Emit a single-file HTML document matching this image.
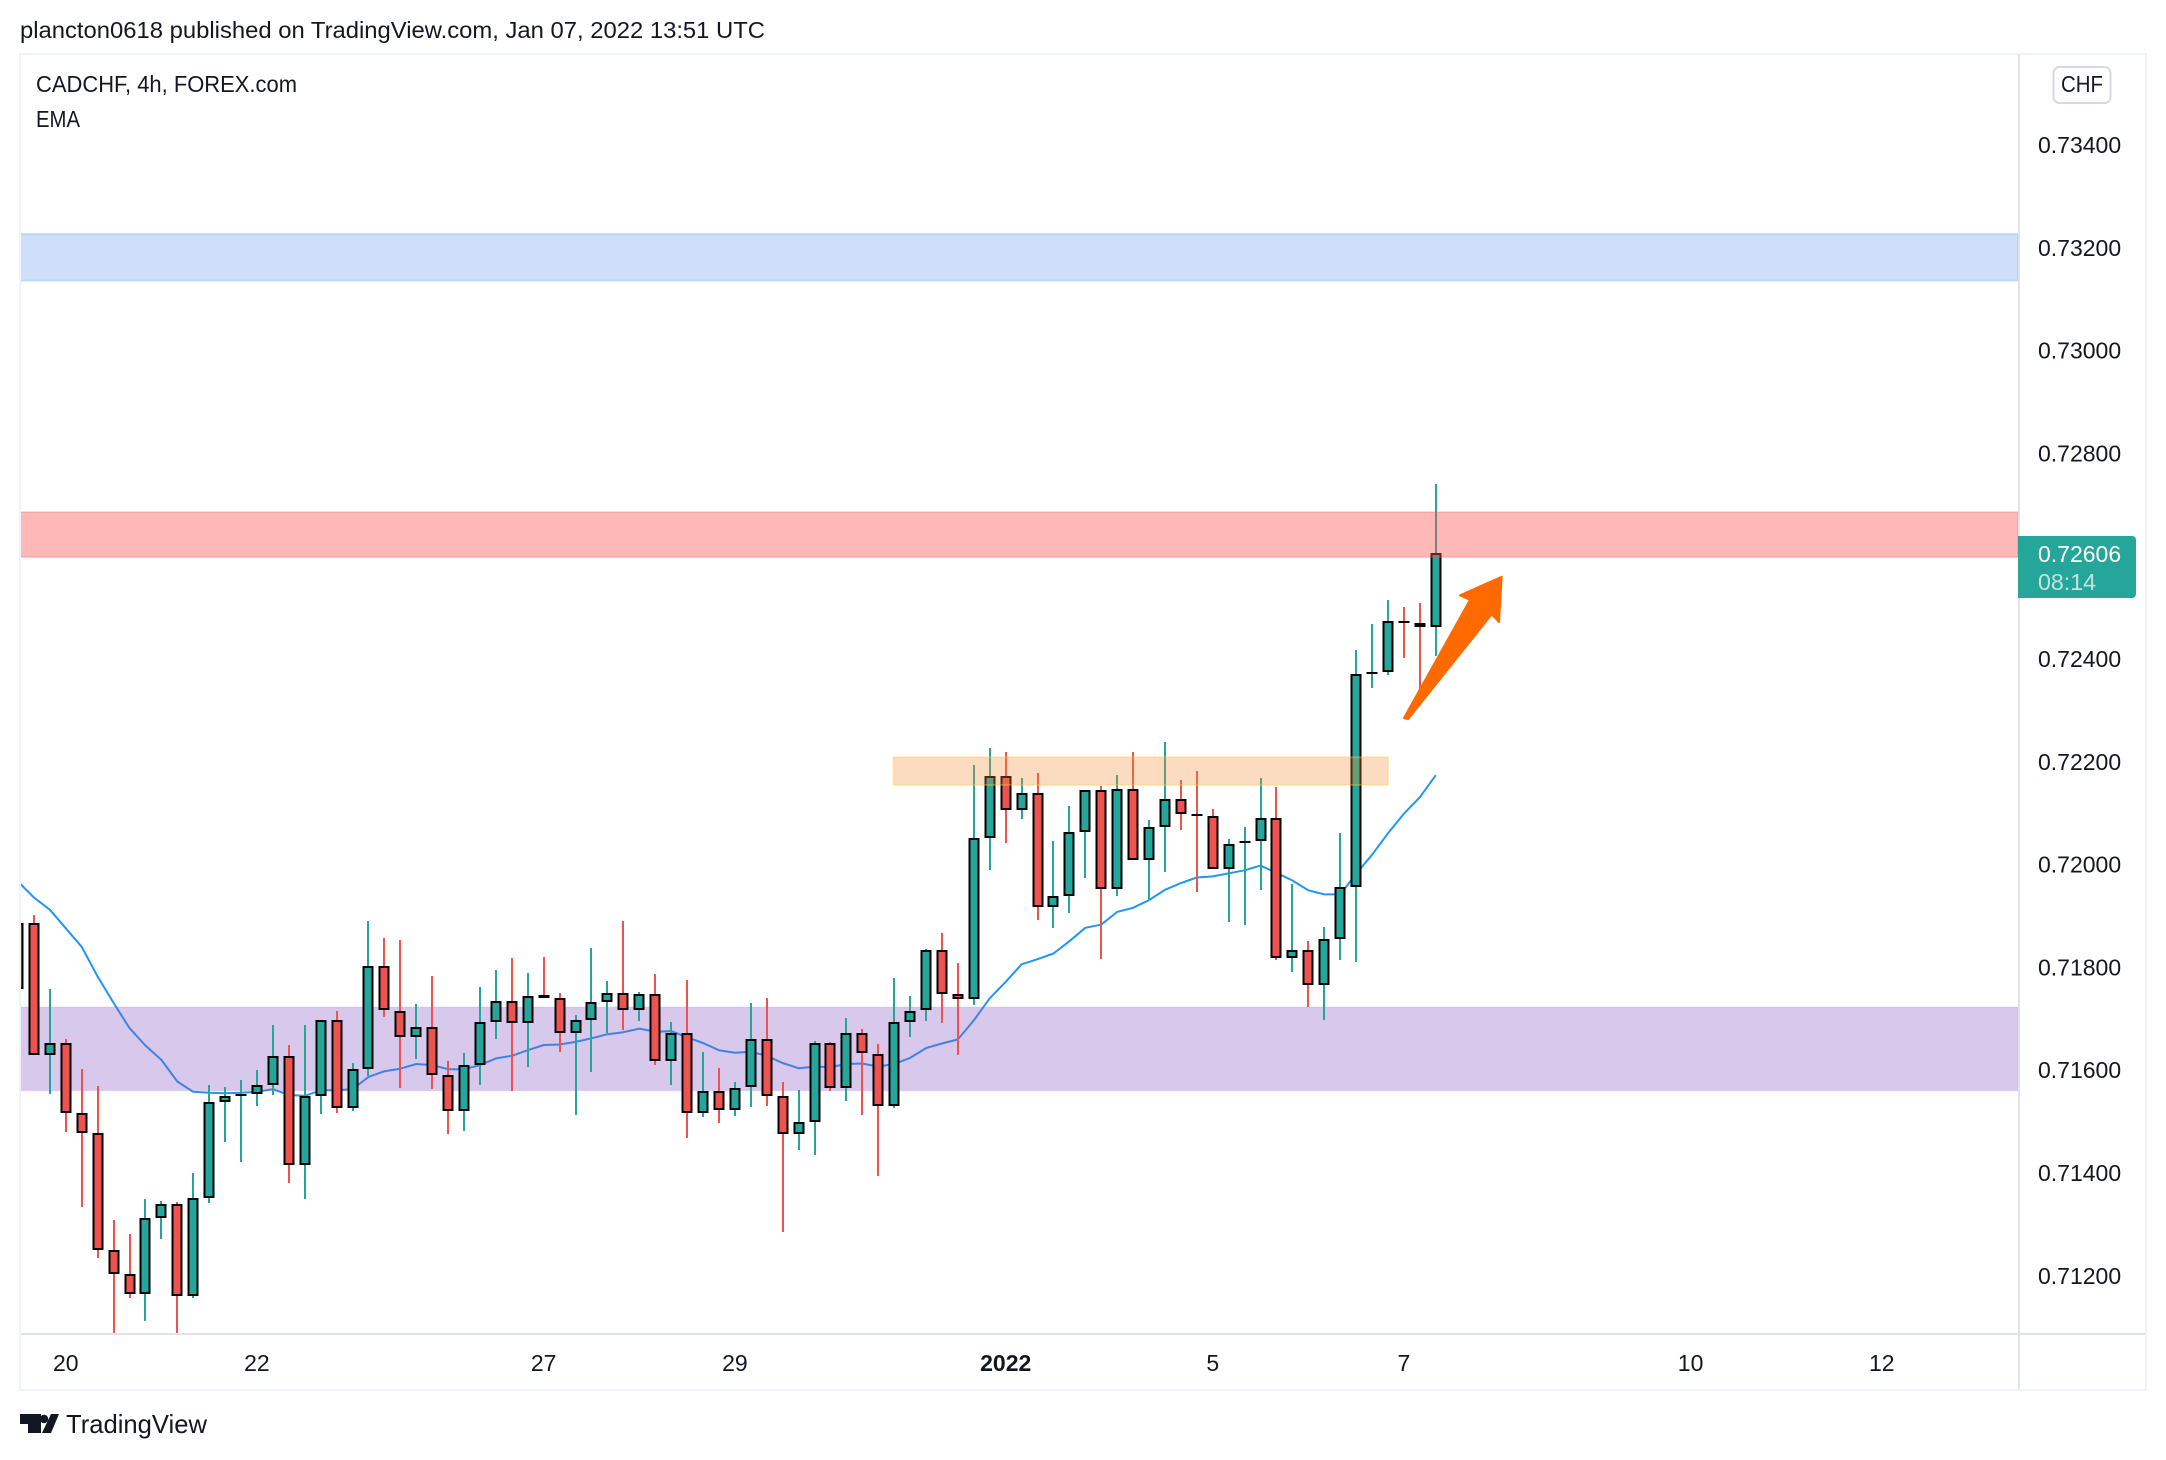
<!DOCTYPE html>
<html lang="en">
<head>
<meta charset="utf-8">
<title>CADCHF 4h chart</title>
<style>
html,body{margin:0;padding:0;background:#fff;}
body{width:2166px;height:1460px;overflow:hidden;}
svg{display:block;}
text{font-family:"Liberation Sans",sans-serif;fill:#131722;font-size:23px;}
</style>
</head>
<body>
<svg id="chart" xmlns="http://www.w3.org/2000/svg" width="2166" height="1460" viewBox="0 0 2166 1460">
  <defs>
    <clipPath id="pane-clip"><rect x="21" y="55" width="1997" height="1278"/></clipPath>
  </defs>
  <text x="20" y="38" textLength="745" lengthAdjust="spacingAndGlyphs">plancton0618 published on TradingView.com, Jan 07, 2022 13:51 UTC</text>
  <rect x="20" y="54" width="2126" height="1336" fill="none" stroke="#f0f3fa" stroke-width="2"/>
  <g id="pane" clip-path="url(#pane-clip)"></g>
  <line x1="2019" y1="55" x2="2019" y2="1389" stroke="#e0e3eb" stroke-width="2"/>
  <line x1="21" y1="1334" x2="2145" y2="1334" stroke="#e0e3eb" stroke-width="2"/>
  <text x="36" y="92" textLength="261" lengthAdjust="spacingAndGlyphs">CADCHF, 4h, FOREX.com</text>
  <text x="36" y="127" textLength="44" lengthAdjust="spacingAndGlyphs">EMA</text>
  <g id="price-axis"></g>
  <g id="time-axis"></g>
  <g>
    <rect x="2053.5" y="67" width="57" height="36" rx="6" fill="#fff" stroke="#d6d9e3" stroke-width="2"/>
    <text x="2082" y="92" text-anchor="middle" textLength="42" lengthAdjust="spacingAndGlyphs">CHF</text>
  </g>
  <g>
    <path d="M2018 536H2132a4 4 0 0 1 4 4V594a4 4 0 0 1 -4 4H2018Z" fill="#26a69a"/>
    <text id="last-price-text" x="2038" y="562" style="fill:#fff"></text>
    <text x="2038" y="590" style="fill:#bfe4e0" textLength="58" lengthAdjust="spacingAndGlyphs">08:14</text>
  </g>
  <g>
    <path d="M20 1414H41V1433H28V1424H20Z" fill="#131722"/>
    <circle cx="44" cy="1419" r="4.2" fill="#131722"/>
    <path d="M51 1414H59L51 1433H42Z" fill="#131722"/>
    <text x="66" y="1433" style="font-size:26px" textLength="141" lengthAdjust="spacingAndGlyphs">TradingView</text>
  </g>
</svg>
<script>
// Prices are expressed in pipettes (1 = 0.00001)
const openPipettes = [71758,71886,71629,71653,71516,71478,71250,71203,71164,71312,71339,71160,71351,71538,71550,71553,71571,71627,71415,71550,71697,71526,71602,71802,71716,71664,71685,71590,71520,71610,71694,71734,71692,71746,71740,71672,71697,71732,71750,71717,71748,71618,71673,71516,71559,71522,71567,71660,71550,71476,71499,71652,71565,71673,71632,71530,71694,71717,71833,71748,71738,72052,72173,72107,72140,71918,71938,72064,72146,71952,72148,72009,72074,72127,72098,72094,71992,72042,72046,72090,71818,71833,71766,71856,71956,72370,72374,72473,72471,72463];
const highPipettes = [71902,71902,71758,71660,71603,71570,71309,71282,71350,71346,71344,71400,71572,71568,71581,71601,71688,71649,71688,71697,71716,71614,71891,71858,71854,71729,71784,71618,71634,71762,71795,71819,71790,71821,71751,71708,71838,71774,71891,71753,71788,71694,71776,71636,71605,71577,71731,71741,71577,71562,71657,71655,71702,71681,71651,71780,71745,71836,71867,71809,72194,72227,72219,72169,72179,72046,72114,72146,72153,72175,72219,72087,72239,72165,72182,72109,72050,72073,72169,72151,71963,71852,71879,72062,72418,72468,72515,72501,72509,72741];
const lowPipettes = [71752,71630,71554,71480,71334,71235,71082,71157,71112,71272,71082,71157,71342,71461,71422,71531,71552,71381,71350,71515,71517,71521,71588,71704,71566,71622,71564,71476,71482,71572,71661,71560,71607,71740,71636,71513,71597,71672,71679,71696,71611,71572,71469,71509,71498,71511,71529,71531,71286,71445,71435,71560,71540,71513,71395,71527,71665,71696,71692,71630,71727,71990,72042,72089,71893,71877,71906,71974,71817,71939,72009,71933,71986,72068,71947,71992,71889,71883,71951,71815,71791,71723,71698,71815,71810,72344,72369,72402,72311,72406];
const closePipettes = [71886,71630,71653,71516,71478,71250,71203,71164,71312,71339,71160,71351,71538,71550,71553,71571,71627,71415,71550,71697,71526,71602,71802,71718,71664,71685,71590,71520,71610,71693,71734,71692,71745,71740,71672,71697,71732,71750,71717,71748,71618,71673,71516,71559,71522,71566,71660,71550,71476,71499,71652,71565,71673,71633,71530,71693,71716,71833,71748,71738,72052,72173,72107,72140,71918,71938,72064,72146,71952,72148,72009,72074,72127,72098,72094,71992,72041,72046,72090,71818,71833,71766,71856,71956,72370,72374,72473,72471,72463,72606];
const emaPipettes = [71967,71936,71912,71876,71840,71782,71731,71682,71648,71620,71578,71558,71556,71555,71556,71558,71563,71552,71550,71561,71561,71563,71587,71598,71603,71612,71610,71602,71602,71610,71623,71628,71639,71649,71650,71655,71662,71670,71674,71681,71675,71676,71664,71653,71639,71634,71636,71628,71614,71604,71607,71606,71612,71613,71607,71612,71624,71643,71652,71660,71697,71740,71772,71806,71816,71827,71851,71877,71883,71908,71916,71931,71951,71964,71975,71977,71983,71989,71998,71984,71969,71950,71942,71942,71982,72019,72061,72099,72131,72174];
const priceTickValues = [73400,73200,73000,72800,72400,72200,72000,71800,71600,71400,71200];
const timeTickBars = [3,15,33,45,62,75,87,105,117];
const timeTickLabels = ["20","22","27","29","2022","5","7","10","12"];
const blueZone = [73227,73136];
const redZone = [72686,72598];
const purpleZone = [71723,71560];
const orangeZone = [72209,72155];
const orangeZoneBars = [54.96,86];
const arrowBars = [93.14,90.52,91.15,87,87.26,92.51,92.97];
const arrowPrices = [72560,72524,72515,72285,72283,72487,72472];

const SVG_NS = 'http://www.w3.org/2000/svg';
const xScale = function (bar) { return 18 + bar * 15.93; };
const yScale = function (p) { return 145 + (73400 - p) / 1.9455; };
const formatPrice = function (p) { return (p / 100000).toFixed(5); };
const pane = document.getElementById('pane');
const priceAxis = document.getElementById('price-axis');
const timeAxis = document.getElementById('time-axis');
const make = function (tag, parent) {
  const el = document.createElementNS(SVG_NS, tag);
  parent.appendChild(el);
  return el;
};
const setRect = function (el, x, y, w, h, fill) {
  el.setAttribute('x', x);
  el.setAttribute('y', y);
  el.setAttribute('width', w);
  el.setAttribute('height', h);
  el.setAttribute('fill', fill);
};
const drawZone = function (el, x1, x2, zone, fill, stroke) {
  const top = yScale(zone[0]);
  const bottom = yScale(zone[1]);
  setRect(el, x1, top, x2 - x1, bottom - top, fill);
  el.setAttribute('stroke', stroke);
  el.setAttribute('stroke-width', '2');
};

// EMA sits underneath the blue and purple zones
const emaLine = make('polyline', pane);


emaLine.setAttribute('fill', 'none');
emaLine.setAttribute('stroke', '#2196f3');
emaLine.setAttribute('stroke-width', '2');
emaLine.setAttribute('stroke-linejoin', 'round');
emaLine.setAttribute('points', emaPipettes.map(function (v, i) {
  return xScale(i).toFixed(1) + ',' + yScale(v).toFixed(1);
}).join(' '));

const blueRect = make('rect', pane);


drawZone(blueRect, 10, 2018, blueZone, 'rgba(60,130,230,0.26)', 'rgba(120,190,250,0.35)');

const purpleRect = make('rect', pane);


drawZone(purpleRect, 10, 2018, purpleZone, 'rgba(133,86,196,0.32)', 'rgba(133,86,196,0.06)');

// Candles
closePipettes.forEach(function (close, i) {
  const open = openPipettes[i];
  const up = close >= open;
  const color = up ? '#26a69a' : '#ef5350';
  const cx = Math.round(xScale(i));
  const top = Math.round(yScale(Math.max(open, close)));
  const bottom = Math.round(yScale(Math.min(open, close)));
  const outerH = Math.max(2, bottom - top);
  const g = make('g', pane);
  
  
  g.setAttribute('shape-rendering', 'crispEdges');
  const wick = make('rect', g);
  
  
  const wickTop = Math.round(yScale(highPipettes[i]));
  const wickBottom = Math.round(yScale(lowPipettes[i]));
  setRect(wick, cx - 1, wickTop, 2, Math.max(1, wickBottom - wickTop), color);
  const outline = make('rect', g);
  
  
  setRect(outline, cx - 5.5, top, 11, outerH, '#000');
  if (outerH > 4) {
    const fill = make('rect', g);
    
    
    setRect(fill, cx - 3.5, top + 2, 7, outerH - 4, color);
  }
});

// Red and orange zones overlay the candles
const redRect = make('rect', pane);


drawZone(redRect, 10, 2018, redZone, 'rgba(255,77,77,0.4)', 'rgba(255,77,77,0.2)');

const orangeRect = make('rect', pane);


drawZone(orangeRect, xScale(orangeZoneBars[0]), xScale(orangeZoneBars[1]), orangeZone, 'rgba(241,138,45,0.3)', 'rgba(255,200,90,0.35)');

const arrow = make('polygon', pane);


arrow.setAttribute('fill', '#ff6a00');
arrow.setAttribute('stroke', '#ff6a00');
arrow.setAttribute('stroke-width', '2');
arrow.setAttribute('stroke-linejoin', 'round');
arrow.setAttribute('points', arrowBars.map(function (b, i) {
  return xScale(b).toFixed(1) + ',' + yScale(arrowPrices[i]).toFixed(1);
}).join(' '));

// Axis labels
priceTickValues.forEach(function (v) {
  const t = make('text', priceAxis);
  
  
  t.setAttribute('x', '2038');
  t.setAttribute('y', (yScale(v) + 8).toFixed(1));
  t.textContent = formatPrice(v);
});
timeTickBars.forEach(function (b, i) {
  const t = make('text', timeAxis);
  
  
  t.setAttribute('x', xScale(b).toFixed(1));
  t.setAttribute('y', '1371');
  t.setAttribute('text-anchor', 'middle');
  if (timeTickLabels[i] === '2022') {
    t.setAttribute('font-weight', '700');
  }
  t.textContent = timeTickLabels[i];
});
document.getElementById('last-price-text').textContent = formatPrice(closePipettes[closePipettes.length - 1]);
</script>
</body>
</html>
